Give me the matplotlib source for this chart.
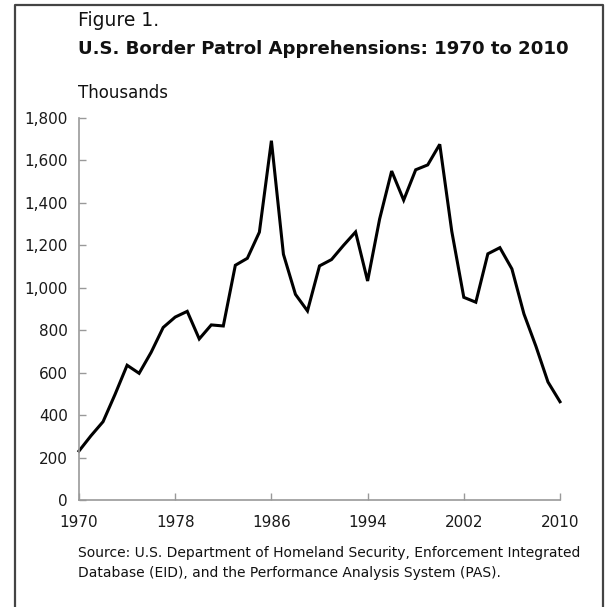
import matplotlib
matplotlib.use("Agg")
import matplotlib.pyplot as plt
from matplotlib.lines import Line2D

# Apprehensions by fiscal year, in thousands
years = list(range(1970, 2011))
apprehensions = [231, 303, 369, 498, 635, 597, 696, 813, 862, 889,
                 759, 825, 820, 1106, 1139, 1262, 1693, 1158, 969, 891,
                 1103, 1133, 1200, 1263, 1032, 1324, 1550, 1413, 1556, 1579,
                 1676, 1266, 955, 932, 1160, 1189, 1089, 877, 724, 556,
                 463]
x_ticks = [1970, 1978, 1986, 1994, 2002, 2010]
y_ticks = list(range(0, 2000, 200))

plt.rcParams['font.family'] = ['DejaVu Sans']

fig = plt.figure(figsize=(6.05, 6.07), dpi=100)
ax = fig.add_axes([79 / 605, 1 - 500 / 607, (560 - 79) / 605, (500 - 118) / 607])

ax.plot(years, apprehensions, color='black', linewidth=2.2,
        solid_joinstyle='miter', clip_on=False)

ax.set_xlim(1970, 2010)
ax.set_ylim(0, 1800)
ax.set_xticks(x_ticks)
ax.set_yticks(y_ticks)
ax.set_yticklabels([f"{v:,}" for v in y_ticks])

for side in ['top', 'right']:
    ax.spines[side].set_visible(False)
for side in ['left', 'bottom']:
    ax.spines[side].set_color('#999999')
    ax.spines[side].set_linewidth(1.2)
ax.tick_params(direction='in', length=5, width=1, color='#999999',
               labelsize=11, labelcolor='#1a1a1a')
ax.tick_params(axis='x', pad=11)
ax.tick_params(axis='y', pad=8)

# titles and notes
fig.text(78 / 605, 1 - 20 / 607, "Figure 1.", fontsize=13.5, va='center', color='#111111')
fig.text(78 / 605, 1 - 49 / 607, "U.S. Border Patrol Apprehensions: 1970 to 2010",
         fontsize=13.1, fontweight='bold', va='center', color='#111111')
fig.text(78 / 605, 1 - 93 / 607, "Thousands", fontsize=12, va='center', color='#111111')
fig.text(78 / 605, 1 - 553 / 607,
         "Source: U.S. Department of Homeland Security, Enforcement Integrated",
         fontsize=10, va='center', color='#111111')
fig.text(78 / 605, 1 - 573 / 607,
         "Database (EID), and the Performance Analysis System (PAS).",
         fontsize=10, va='center', color='#111111')

# frame around the figure (bottom runs off the page)
fx = [15 / 605, 15 / 605, 603 / 605, 603 / 605]
fy = [0, 1 - 5 / 607, 1 - 5 / 607, 0]
fig.add_artist(Line2D(fx, fy, transform=fig.transFigure, color='#444444', linewidth=1.6))

fig.savefig("out.png", dpi=100)
